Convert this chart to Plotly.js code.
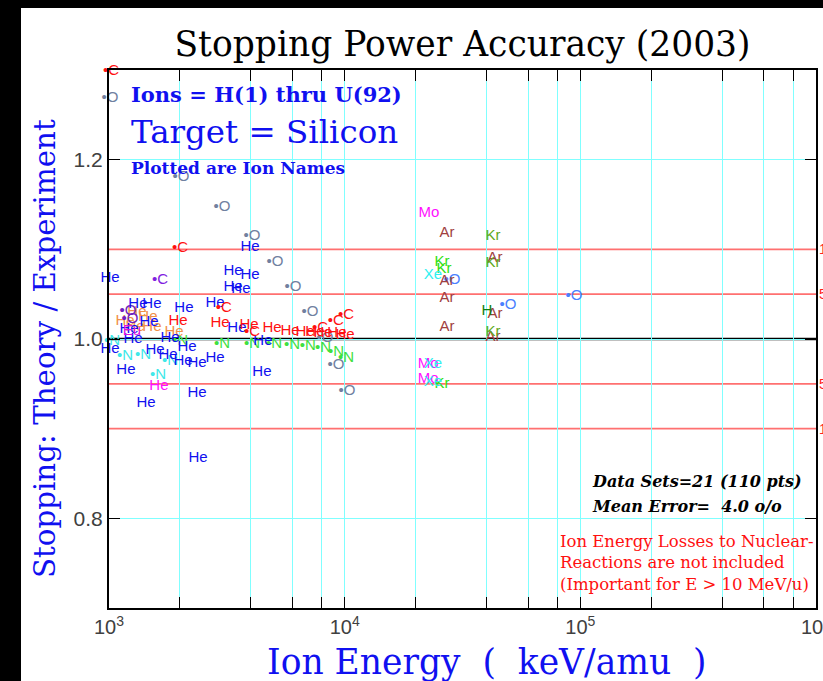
<!DOCTYPE html>
<html>
<head>
<meta charset="utf-8">
<script src="https://cdn.plot.ly/plotly-3.0.1.min.js"></script>
<style>
  html, body { margin: 0; padding: 0; background: #000; width: 823px; height: 681px; overflow: hidden; }
  #chart { position: absolute; left: 21px; top: 8px; width: 802px; height: 673px; }
</style>
</head>
<body>
<div id="chart"></div>
<script>
// ---- data (ion energy keV/amu, theory/experiment ratio) ----
const heBlueX = [1010, 3360, 3965, 3965, 3360, 3630, 2818, 1327, 1521, 2080, 1479, 3490, 1264, 1815, 4500, 1010, 1567, 1780, 2061, 2362, 2818, 2143, 1180, 1436, 2362, 4457, 2387, 1216];
const heBlueY = [1.068, 1.076, 1.071, 1.102, 1.058, 1.056, 1.040, 1.039, 1.039, 1.034, 1.019, 1.012, 1.000, 1.001, 0.998, 0.989, 0.987, 0.982, 0.975, 0.973, 0.979, 0.991, 0.965, 0.928, 0.940, 0.963, 0.867, 1.011];
const heRedX = [1963, 2958, 3927, 4915, 5860, 6790, 7480, 8090, 9270, 10030];
const heRedY = [1.020, 1.018, 1.015, 1.012, 1.009, 1.008, 1.008, 1.006, 1.006, 1.004];
const heOrangeX = [1169, 1314, 1463, 1521, 1887, 1289];
const heOrangeY = [1.020, 1.030, 1.024, 1.013, 1.008, 1.013];
const heMagentaX = [1629];
const heMagentaY = [0.947];
const cRedX = [1020, 2000, 3070, 4045, 7855, 9180, 10140];
const cRedY = [1.299, 1.101, 1.034, 1.008, 1.012, 1.020, 1.027];
const cPurpleX = [1645];
const cPurpleY = [1.065];
const oPurpleX = [1203, 1227];
const oPurpleY = [1.031, 1.022];
const oGrayX = [1010, 2020, 3015, 4045, 5060, 6035, 7125, 8250, 9185, 10230];
const oGrayY = [1.269, 1.180, 1.147, 1.115, 1.086, 1.058, 1.030, 1.001, 0.971, 0.942];
const oBlueX = [28530, 49300, 93970];
const oBlueY = [1.065, 1.038, 1.048];
const nGreenX = [1000, 2000, 3015, 4045, 5012, 5975, 6982, 8090, 9185, 10140];
const nGreenY = [1.058, 0.997, 0.994, 0.994, 0.994, 0.993, 0.992, 0.990, 0.985, 0.978];
const nCyanX = [1030, 1169, 1394, 1815, 1614];
const nCyanY = [0.998, 0.981, 0.982, 0.975, 0.960];
const pbX = [995];
const pbY = [1.009];
const euX = [1250];
const euY = [1.009];
const xeBlackX = [1000];
const xeBlackY = [0.992];
const arX = [27180, 27180, 27180, 27180, 43400, 43400, 42600];
const arY = [1.118, 1.064, 1.045, 1.013, 1.090, 1.028, 1.002];
const krGreenX = [25880, 26380, 25880];
const krGreenY = [1.086, 1.078, 0.950];
const krOliveX = [42600, 42600, 42600];
const krOliveY = [1.115, 1.084, 1.008];
const hGreenX = [40150];
const hGreenY = [1.031];
const moX = [22800, 22600, 22600];
const moY = [1.140, 0.972, 0.955];
const xeCyanX = [23700, 23700, 23700];
const xeCyanY = [1.071, 0.972, 0.952];

const xTickVals = [1000, 10000, 100000, 1000000];
const xTickText = ['10<sup>3</sup>', '10<sup>4</sup>', '10<sup>5</sup>', '10<sup>6</sup>'];
const xMinorVals = [2000, 4000, 6000, 8000, 20000, 40000, 60000, 80000, 200000, 400000, 600000, 800000];
const yTickVals = [0.8, 1.0, 1.2];
const yTickText = ['0.8', '1.0', '1.2'];
const refLines = [1.1, 1.05, 0.95, 0.9];
const refLabels = ['10%', '5%', '5%', '10%'];

// ---- traces ----
function series(x, y, label, color) {
  return {
    type: 'scatter', mode: 'text', x: x, y: y,
    text: x.map(() => label), textposition: 'middle center',
    textfont: { family: 'Liberation Sans, Arial, sans-serif', size: 15, color: color },
    cliponaxis: false, showlegend: false, hoverinfo: 'x+y+text'
  };
}
const traces = [
  series(oGrayX, oGrayY, '•O', '#7080a0'),
  series(oBlueX, oBlueY, '•O', '#4a80ff'),
  series(nGreenX, nGreenY, '•N', '#40e040'),
  series(nCyanX, nCyanY, '•N', '#40e8e8'),
  series(heOrangeX, heOrangeY, 'He', '#f09048'),
  series(oPurpleX, oPurpleY, '•O', '#7020c0'),
  series(cPurpleX, cPurpleY, '•C', '#8020e0'),
  series(heBlueX, heBlueY, 'He', '#1010f0'),
  series(heRedX, heRedY, 'He', '#ff1010'),
  series(cRedX, cRedY, '•C', '#ff1010'),
  series(heMagentaX, heMagentaY, 'He', '#ff10ff'),
  series(euX, euY, 'Eu', '#e010e0'),
  series(pbX, pbY, 'Pb', '#1010f0'),
  series(xeBlackX, xeBlackY, 'Xe', '#000000'),
  series(arX, arY, 'Ar', '#a04040'),
  series(krGreenX, krGreenY, 'Kr', '#30e010'),
  series(krOliveX, krOliveY, 'Kr', '#60a818'),
  series(hGreenX, hGreenY, 'H', '#108010'),
  series(moX, moY, 'Mo', '#ff10ff'),
  series(xeCyanX, xeCyanY, 'Xe', '#30f0f0')
];

// ---- shapes & annotations ----
const shapes = refLines.map(v => ({
  type: 'line', xref: 'paper', x0: 0, x1: 1, yref: 'y', y0: v, y1: v,
  line: { color: '#ff7070', width: 1.6 }, layer: 'below'
}));
shapes.push({ type: 'line', xref: 'paper', x0: 0, x1: 1, yref: 'y', y0: 1.0, y1: 1.0,
  line: { color: '#000000', width: 2.6 }, layer: 'below' });

const serif = 'DejaVu Serif, serif';
const annotations = refLabels.map((t, i) => ({
  xref: 'paper', x: 1, xanchor: 'left', xshift: 1, yref: 'y', y: refLines[i], yanchor: 'middle',
  text: t, showarrow: false, font: { family: 'Liberation Sans, Arial, sans-serif', size: 14, color: '#ff2020' }
}));
annotations.push(
  { xref: 'paper', yref: 'paper', x: 0.028, y: 0.954, xanchor: 'left', yanchor: 'middle', showarrow: false,
    text: '<b>Ions = H(1) thru U(92)</b>', font: { family: serif, size: 21, color: '#1010f0' } },
  { xref: 'paper', yref: 'paper', x: 0.028, y: 0.884, xanchor: 'left', yanchor: 'middle', showarrow: false,
    text: 'Target = Silicon', font: { family: serif, size: 32.5, color: '#1010f0' } },
  { xref: 'paper', yref: 'paper', x: 0.028, y: 0.818, xanchor: 'left', yanchor: 'middle', showarrow: false,
    text: '<b>Plotted are Ion Names</b>', font: { family: serif, size: 17, color: '#1010f0' } },
  { xref: 'paper', yref: 'paper', x: 0.68, y: 0.236, xanchor: 'left', yanchor: 'middle', showarrow: false,
    text: '<b><i>Data Sets=21 (110 pts)</i></b>', font: { family: serif, size: 16, color: '#000000' } },
  { xref: 'paper', yref: 'paper', x: 0.68, y: 0.188, xanchor: 'left', yanchor: 'middle', showarrow: false,
    text: '<b><i>Mean Error=\u00a0\u00a04.0 o/o</i></b>', font: { family: serif, size: 16, color: '#000000' } },
  { xref: 'paper', yref: 'paper', x: 0.635, y: 0.084, xanchor: 'left', yanchor: 'middle', showarrow: false,
    align: 'left',
    text: 'Ion Energy Losses to Nuclear-<br>Reactions are not included<br>(Important for E &gt; 10 MeV/u)',
    font: { family: serif, size: 16.5, color: '#ff1010' } },
  // axis titles
  { xref: 'paper', yref: 'paper', x: 0.5346, y: -0.101, xanchor: 'center', yanchor: 'middle', showarrow: false,
    text: 'Ion Energy\u00a0\u00a0(\u00a0\u00a0keV/amu\u00a0\u00a0)', font: { family: serif, size: 34.5, color: '#1010f0' } },
  { xref: 'paper', yref: 'paper', x: -0.0905, y: 0.4814, xanchor: 'center', yanchor: 'middle', showarrow: false,
    textangle: -90,
    text: 'Stopping: Theory / Experiment', font: { family: serif, size: 29.3, color: '#1010f0' } }
);

const layout = {
  width: 802, height: 673,
  paper_bgcolor: '#ffffff', plot_bgcolor: '#ffffff',
  margin: { l: 88, r: 7, t: 62, b: 73 },
  showlegend: false,
  title: { text: 'Stopping Power Accuracy (2003)', x: 0.5, xref: 'paper', y: 0.9465, yref: 'container',
           yanchor: 'middle', font: { family: serif, size: 34.5, color: '#000000' } },
  xaxis: {
    type: 'log', range: [3, 6],
    tickmode: 'array', tickvals: xTickVals, ticktext: xTickText,
    ticklabeloverflow: 'allow',
    ticks: 'inside', ticklen: 11, tickcolor: '#000', tickwidth: 1,
    minor: { tickmode: 'array', tickvals: xMinorVals, ticks: 'inside', ticklen: 11, tickcolor: '#000',
             showgrid: true, gridcolor: '#80ffff', gridwidth: 1 },
    showline: true, linecolor: '#000', linewidth: 2, mirror: 'ticks',
    showgrid: true, gridcolor: '#80ffff', gridwidth: 1,
    tickfont: { family: 'Liberation Sans, Arial, sans-serif', size: 20, color: '#404040' }
  },
  yaxis: {
    range: [0.7, 1.3],
    tickmode: 'array', tickvals: yTickVals, ticktext: yTickText,
    ticks: 'inside', ticklen: 11, tickcolor: '#000', tickwidth: 1,
    showline: true, linecolor: '#000', linewidth: 2, mirror: 'ticks',
    showgrid: true, gridcolor: '#80ffff', gridwidth: 1, zeroline: false,
    tickfont: { family: 'Liberation Sans, Arial, sans-serif', size: 21, color: '#404040' }
  },
  shapes: shapes,
  annotations: annotations
};

Plotly.newPlot('chart', traces, layout, { displayModeBar: false, staticPlot: true });
</script>
</body>
</html>
